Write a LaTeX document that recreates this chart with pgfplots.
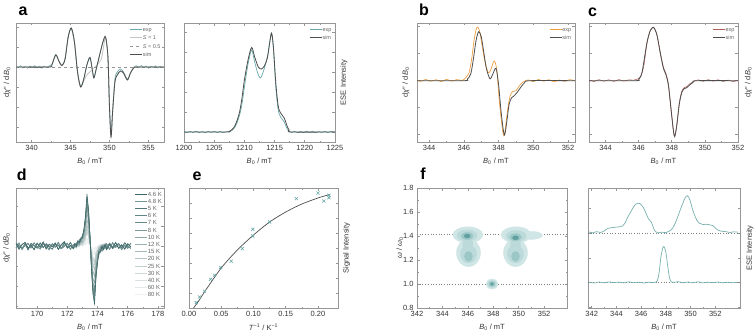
\documentclass[border=0pt]{standalone}
\usepackage{pgfplots}
\pgfplotsset{compat=1.18}
\usepackage{pgfplotstable}
\usepackage{fontspec}
\setmainfont{Liberation Sans}

\definecolor{axgray}{RGB}{150,150,150}
\definecolor{expteal}{RGB}{104,168,168}
\definecolor{simgray}{RGB}{78,78,78}
\definecolor{sone}{RGB}{195,195,195}
\definecolor{shalf}{RGB}{150,150,150}
\definecolor{exporange}{RGB}{238,160,64}
\definecolor{expred}{RGB}{176,96,88}
\definecolor{dbase}{RGB}{62,104,104}
\definecolor{fteal}{RGB}{120,176,176}
\definecolor{c1}{RGB}{208,229,229}
\definecolor{c2}{RGB}{188,218,218}
\definecolor{c3}{RGB}{155,199,199}
\definecolor{c4}{RGB}{98,160,160}

\pgfplotsset{
  panel/.style={
    scale only axis, anchor=south west,
    axis line style={draw=axgray, line width=0.8pt},
    tick style={draw=axgray, line width=0.6pt},
    major tick length=2.5pt, minor tick length=1.5pt,
    tick align=inside,
    ticklabel style={font=\fontsize{7.5}{8}\selectfont, text=black!80},
    label style={font=\fontsize{7.5}{8}\selectfont, text=black!80},
    /pgf/number format/assume math mode=true,
    /pgf/number format/1000 sep={},
    legend style={draw=none, fill=none, font=\fontsize{5.5}{6}\selectfont,
      text=black!60, inner sep=0pt, row sep=2.4pt,
      nodes={inner sep=0.4pt, text height=4.5pt, text depth=0.5pt}},
    legend cell align=left,
    legend image code/.code={\draw[##1] (0pt,0pt) -- (12pt,0pt);},
  },
  ylab/.style={ylabel style={at={(axis description cs:#1,0.5)}, anchor=center}},
}

% panel d: line shape s (peak = 1) and three baseline noise columns (px)
\pgfplotstableread{
x s n1 n2 n3
168.6 0 2.1 -1.6 3.3
168.8 0 -3.0 2.8 -0.5
169.0 0 1.4 -3.4 -2.4
169.2 0 3.5 0.9 1.9
169.4 0 -2.2 2.5 -3.8
169.6 0 0.8 -1.9 2.6
169.8 0 -3.6 3.1 0.3
170.0 0 2.7 -0.7 -2.1
170.2 0 -1.1 -2.9 3.0
170.4 0 3.9 1.8 -1.5
170.6 0 -2.8 0.4 2.2
170.8 0 1.7 -3.7 -0.8
171.0 0 -0.6 2.3 -3.1
171.2 0 2.9 -1.2 1.6
171.4 0 -3.3 3.6 0.7
171.6 0 1.2 -2.5 -2.7
171.8 0 4.2 -0.3 2.9
172.0 0 -2.0 2.7 -1.3
172.2 0 0.5 -3.2 3.5
172.4 0 -2.6 1.5 -2.2
172.5 0.02 1.5 -2.0 0.9
172.6 0.04 -1.8 1.2 -2.3
172.7 0.06 2.2 -1.6 1.7
172.8 0.09 -0.9 2.3 -1.2
172.9 0.13 1.1 -0.8 2.0
173.0 0.20 -1.4 1.4 -0.9
173.1 0.32 0.8 -1.0 0.6
173.2 0.58 -0.6 0.7 -0.7
173.3 1.00 0.4 -0.5 0.5
173.4 0.72 -0.5 0.6 -0.3
173.5 0.18 0.3 -0.4 0.4
173.6 -0.45 -0.4 0.5 -0.6
173.7 -0.95 0.6 -0.7 0.8
173.8 -1.10 -0.8 0.9 -0.5
173.9 -0.60 1.0 -1.2 1.3
174.0 -0.30 -1.3 1.5 -0.9
174.1 -0.15 1.6 -1.1 2.1
174.2 -0.08 -2.1 2.0 -1.5
174.3 -0.05 2.4 -2.6 1.4
174.4 -0.03 -1.7 1.9 -2.4
174.5 -0.02 2.6 -1.4 1.8
174.6 -0.01 -3.1 2.5 -1.2
174.8 -0.01 2.0 -2.8 3.1
175.0 0 -1.5 3.3 -2.6
175.2 0 3.4 -1.4 0.6
175.4 0 -2.4 1.9 2.4
175.6 0 1.1 -3.5 -1.8
175.8 0 -3.0 0.8 3.2
176.0 0 2.2 -2.1 -0.4
176.2 0 -0.7 2.9 -2.3
}\dshape

\begin{document}
\begin{tikzpicture}
\path[use as bounding box] (0pt,0pt) rectangle (756pt,333pt);

% ---------------- a (left) ----------------
\begin{axis}[panel, at={(16pt,191pt)}, width=148pt, height=119pt,
  xmin=338, xmax=357, ymin=-75, ymax=44,
  xtick={340,345,350,355}, minor x tick num=1,
  ytick={-60,-40,...,40}, yticklabels={},
  xlabel={\textit{B}\textsubscript{0} / mT},
  ylabel={d\textit{χ}″ / d\textit{B}\textsubscript{0}}, ylab=-0.06,
  legend style={at={(0.98,0.97)}, anchor=north east}]
\addplot[expteal, line width=0.7pt, smooth] coordinates {
(338.0,0.8) (338.3,-0.6) (338.6,1.2) (338.9,-1.0) (339.2,0.5) (339.5,-1.2)
(339.8,1.0) (340.1,-0.4) (340.4,1.3) (340.7,-0.9) (341.0,0.6) (341.3,-1.1)
(341.6,1.0) (341.9,-0.5) (342.2,0.7) (342.6,2.5) (343.1,12.5) (343.5,6)
(343.9,1.5) (344.3,8.5) (344.7,30) (345.1,38) (345.5,25) (345.9,-5)
(346.3,-19) (346.7,-12) (347.1,2) (347.5,9) (347.8,-3) (348.0,-10.5)
(348.3,-2) (348.8,14) (349.2,26) (349.5,29) (349.8,10) (350.0,-38)
(350.2,-68) (350.4,-44) (350.7,-12) (351.0,-5) (351.4,-2) (351.8,-5)
(352.3,-12) (352.7,-6) (353.1,-0.5) (353.5,1.2) (353.8,-0.8) (354.1,1.4)
(354.4,-0.6) (354.7,1.0) (355.0,-1.2) (355.3,0.8) (355.6,-0.4) (355.9,1.1)
(356.2,-0.9) (356.5,0.6) (356.8,-0.7) (357.0,0.3)};
\addlegendentry{exp}
\addplot[sone, line width=0.8pt, smooth] coordinates {
(338,0) (342.2,0) (342.6,2) (343.1,12) (343.5,6) (343.9,1.5) (344.3,8)
(344.7,30) (345.1,39) (345.5,25) (345.9,-5) (346.3,-20) (347.0,-9)
(348.0,-1) (348.9,7) (349.2,18) (349.5,30) (349.8,10) (350.0,-40)
(350.2,-70) (350.4,-45) (350.7,-15) (351.0,-8) (351.4,-4) (351.8,-6)
(352.3,-13) (352.7,-6) (353.1,-1) (353.6,0) (357,0)};
\addlegendentry{\textit{S} = 1}
\addplot[shalf, line width=0.5pt, dashed] coordinates {(338,0) (357,0)};
\addlegendentry{\textit{S} = 0.5}
\addplot[simgray, line width=0.8pt, smooth] coordinates {
(338,0) (342.2,0) (342.6,2) (343.1,12) (343.5,6) (343.9,1.5) (344.3,8)
(344.7,30) (345.1,39) (345.5,25) (345.9,-5) (346.3,-20) (346.7,-12)
(347.1,2) (347.5,9.6) (347.8,-3) (348.0,-11) (348.3,-2) (348.8,14)
(349.2,26) (349.5,30) (349.8,10) (350.0,-40) (350.2,-70) (350.4,-45)
(350.7,-15) (351.0,-8) (351.4,-4) (351.8,-6) (352.3,-13) (352.7,-6)
(353.1,-1) (353.6,0) (357,0)};
\addlegendentry{sim}
\end{axis}

% ---------------- a (right) ----------------
\begin{axis}[panel, at={(184pt,191pt)}, width=151pt, height=119pt,
  xmin=1200, xmax=1225, ymin=-10, ymax=109,
  xtick={1200,1205,...,1225}, minor x tick num=1,
  ytick={0,20,...,100}, yticklabels={},
  xlabel={\textit{B}\textsubscript{0} / mT},
  ylabel={ESE Intensity}, ylab=1.06,
  legend style={at={(0.98,0.97)}, anchor=north east}]
\addplot[expteal, line width=0.7pt, smooth] coordinates {
(1200,0.5) (1200.5,-0.8) (1201,0.6) (1201.5,-0.5) (1202,0.9) (1202.5,-0.7)
(1203,0.4) (1203.5,-0.9) (1204,0.7) (1204.5,-0.4) (1205,0.8) (1205.5,-0.6)
(1206,0.5) (1206.5,-0.7) (1207,0.3) (1207.6,0.5) (1208.2,3) (1208.7,8)
(1209.2,17) (1209.6,28) (1210.0,45) (1210.6,68) (1211.2,82) (1211.7,70)
(1212.2,59) (1212.6,54) (1213.0,58) (1213.5,68) (1213.9,78) (1214.2,90)
(1214.5,98) (1214.8,84) (1215.2,45) (1215.6,22) (1216.0,15) (1216.6,10)
(1217.0,4) (1217.4,1) (1217.8,-0.5) (1218.3,0.6) (1218.8,-0.7) (1219.3,0.5)
(1219.8,-0.6) (1220.3,0.8) (1220.8,-0.4) (1221.3,0.7) (1221.8,-0.8)
(1222.3,0.4) (1222.8,-0.5) (1223.3,0.7) (1223.8,-0.6) (1224.3,0.5) (1225,0)};
\addlegendentry{exp}
\addplot[simgray, line width=0.8pt, smooth] coordinates {
(1200,0) (1207.0,0) (1207.6,1) (1208.2,4) (1208.7,10) (1209.2,20)
(1209.6,34) (1210.0,52) (1210.6,72) (1211.2,84.6) (1211.7,75) (1212.3,65)
(1212.8,63) (1213.3,66) (1213.8,74) (1214.2,90) (1214.5,99) (1214.8,85)
(1215.2,49) (1215.6,26) (1216.0,19) (1216.6,14) (1217.0,7) (1217.4,2)
(1217.8,0) (1225,0)};
\addlegendentry{sim}
\end{axis}

% ---------------- b ----------------
\begin{axis}[panel, at={(417pt,191pt)}, width=158pt, height=119pt,
  xmin=343.3, xmax=352.4, ymin=-61.3, ymax=57.7,
  xtick={344,346,...,352}, minor x tick num=1,
  ytick={-54,-27,0,27,54}, yticklabels={},
  xlabel={\textit{B}\textsubscript{0} / mT},
  ylabel={d\textit{χ}″ / d\textit{B}\textsubscript{0}}, ylab=-0.07,
  legend style={at={(0.98,0.97)}, anchor=north east}]
\addplot[exporange, line width=0.7pt, smooth] coordinates {
(343.3,0.8) (343.5,-0.7) (343.8,1.2) (344.1,-0.5) (344.4,1.0) (344.7,-0.9)
(345.0,1.3) (345.3,-0.4) (345.6,1.1) (345.9,0.2) (346.1,3) (346.3,8)
(346.45,22) (346.6,42) (346.75,53.4) (346.9,50) (347.05,35) (347.2,20)
(347.4,8) (347.55,11) (347.75,19.7) (347.9,10) (348.05,-22) (348.25,-52)
(348.35,-53) (348.5,-32) (348.65,-16) (348.8,-11) (349.0,-10) (349.2,-5)
(349.4,-1.5) (349.7,0.8) (350.0,-0.9) (350.3,1.2) (350.6,-0.5) (350.9,1.0)
(351.2,-1.1) (351.5,0.7) (351.8,-0.6) (352.1,1.0) (352.4,0)};
\addlegendentry{exp}
\addplot[simgray, line width=0.8pt, smooth] coordinates {
(343.3,0) (346.0,0) (346.2,1.5) (346.4,7) (346.55,22) (346.7,40)
(346.85,49) (347.0,44) (347.15,28) (347.3,12) (347.5,2) (347.65,6)
(347.85,12.3) (348.0,-4) (348.15,-32) (348.33,-54.3) (348.48,-40)
(348.6,-24) (348.75,-17) (348.9,-15) (349.1,-11) (349.3,-6) (349.5,-2)
(349.8,0) (352.4,0)};
\addlegendentry{sim}
\end{axis}

% ---------------- c ----------------
\begin{axis}[panel, at={(589pt,191pt)}, width=149pt, height=119pt,
  xmin=343, xmax=352, ymin=-61.3, ymax=57.7,
  xtick={344,346,...,352}, minor x tick num=1,
  ytick={-54,-27,0,27,54}, yticklabels={},
  xlabel={\textit{B}\textsubscript{0} / mT},
  ylabel={d\textit{χ}″ / d\textit{B}\textsubscript{0}}, ylab=1.07,
  legend style={at={(0.98,0.97)}, anchor=north east}]
\addplot[expred, line width=0.6pt, smooth] coordinates {
(343.0,0.6) (343.3,-0.8) (343.6,1.0) (343.9,-0.5) (344.2,0.9) (344.5,-0.7)
(344.8,1.1) (345.1,-0.4) (345.4,0.8) (345.7,0.5) (345.9,1.5) (346.1,4)
(346.3,14) (346.5,37) (346.7,50) (346.9,53) (347.1,46) (347.3,29)
(347.5,13) (347.65,7) (347.8,-4) (347.95,-27) (348.1,-50) (348.18,-55)
(348.3,-45) (348.45,-23) (348.6,-11) (348.75,-7) (348.9,-6) (349.1,-3)
(349.3,-1) (349.6,0.8) (349.9,-0.6) (350.2,1.0) (350.5,-0.4) (350.8,0.9)
(351.1,-0.7) (351.4,0.6) (351.7,-0.8) (352.0,0.4)};
\addlegendentry{exp}
\addplot[simgray, line width=0.8pt, smooth] coordinates {
(343,0) (345.8,0) (346.0,1.5) (346.2,8) (346.5,38) (346.7,50)
(346.9,53.4) (347.1,46) (347.3,28) (347.5,12) (347.65,6) (347.8,-5)
(347.95,-28) (348.1,-50) (348.18,-56) (348.3,-45) (348.45,-24) (348.6,-12)
(348.75,-8) (348.9,-7) (349.1,-4) (349.3,-1.5) (349.5,0) (352,0)};
\addlegendentry{sim}
\end{axis}

% ---------------- d ----------------
\begin{axis}[panel, at={(16pt,25pt)}, width=148pt, height=120pt,
  xmin=168.6, xmax=178.4, ymin=-62, ymax=58,
  xtick={170,172,...,178}, minor x tick num=1,
  ytick={-60,-40,...,40}, yticklabels={},
  xlabel={\textit{B}\textsubscript{0} / mT},
  ylabel={d\textit{χ}″ / d\textit{B}\textsubscript{0}}, ylab=-0.063,
  reverse legend,
  legend style={at={(0.99,0.975)}, anchor=north east,
    font=\fontsize{6}{6}\selectfont, row sep=1.6pt,
    nodes={inner sep=0.4pt, text height=4.6pt, text depth=0.2pt}}]
\addplot[dbase!9!white, line width=0.6pt] table[y expr=2.5*\thisrow{s}+\thisrow{n3}] {\dshape};
\addlegendentry{80 K}
\addplot[dbase!14!white, line width=0.6pt] table[y expr=5*\thisrow{s}+\thisrow{n1}] {\dshape};
\addlegendentry{60 K}
\addplot[dbase!20!white, line width=0.6pt] table[y expr=8*\thisrow{s}+\thisrow{n2}] {\dshape};
\addlegendentry{40 K}
\addplot[dbase!26!white, line width=0.6pt] table[y expr=13*\thisrow{s}+\thisrow{n3}] {\dshape};
\addlegendentry{30 K}
\addplot[dbase!32!white, line width=0.6pt] table[y expr=15*\thisrow{s}+\thisrow{n1}] {\dshape};
\addlegendentry{25 K}
\addplot[dbase!38!white, line width=0.6pt] table[y expr=18*\thisrow{s}+\thisrow{n2}] {\dshape};
\addlegendentry{20 K}
\addplot[dbase!45!white, line width=0.6pt] table[y expr=21*\thisrow{s}+\thisrow{n3}] {\dshape};
\addlegendentry{15 K}
\addplot[dbase!52!white, line width=0.6pt] table[y expr=27*\thisrow{s}+\thisrow{n1}] {\dshape};
\addlegendentry{12 K}
\addplot[dbase!60!white, line width=0.6pt] table[y expr=34*\thisrow{s}+\thisrow{n2}] {\dshape};
\addlegendentry{10 K}
\addplot[dbase!68!white, line width=0.6pt] table[y expr=39*\thisrow{s}+\thisrow{n3}] {\dshape};
\addlegendentry{8 K}
\addplot[dbase!78!white, line width=0.6pt] table[y expr=43*\thisrow{s}+\thisrow{n1}] {\dshape};
\addlegendentry{7 K}
\addplot[dbase!80!white, line width=0.6pt] table[y expr=46*\thisrow{s}+\thisrow{n2}] {\dshape};
\addlegendentry{6 K}
\addplot[dbase!90!white, line width=0.6pt] table[y expr=48*\thisrow{s}+\thisrow{n3}] {\dshape};
\addlegendentry{5 K}
\addplot[dbase!70!white, line width=0.6pt] table[y expr=49*\thisrow{s}+\thisrow{n2}] {\dshape};
\addlegendentry{4.8 K}
\addplot[dbase, line width=0.6pt] table[y expr=51.7*\thisrow{s}+\thisrow{n1}] {\dshape};
\addlegendentry{4.6 K}
\end{axis}

% ---------------- e ----------------
\begin{axis}[panel, at={(189pt,25pt)}, width=149pt, height=120pt,
  xmin=0, xmax=0.231, ymin=0, ymax=120,
  xtick={0,0.05,...,0.2}, minor x tick num=1,
  xticklabel style={/pgf/number format/.cd, fixed, fixed zerofill, precision=2},
  ytick={0,15,...,105}, yticklabels={},
  xlabel={\textit{T}\textsuperscript{−1} / K\textsuperscript{−1}},
  ylabel={Signal Intensity}, ylab=1.058]
\addplot[simgray, line width=0.7pt, smooth] coordinates {
(0.007,0) (0.015,7) (0.025,17) (0.05,40) (0.075,58) (0.10,73) (0.125,86)
(0.15,96) (0.175,104) (0.20,110) (0.218,113.5)};
\addplot[only marks, mark=x, mark size=2.2pt, expteal, line width=0.6pt] coordinates {
(0.0112,5.4) (0.0163,11) (0.024,16.7) (0.0334,28.7) (0.0396,32.7) (0.0489,40.4)
(0.0655,46.7) (0.0826,59.4) (0.099,72) (0.099,78.7) (0.125,86) (0.1665,109.4)
(0.200,115) (0.2089,107) (0.217,112.7) (0.217,110.3)};
\end{axis}

% ---------------- f (left) ----------------
\begin{axis}[panel, at={(417pt,25pt)}, width=150pt, height=120pt,
  xmin=342, xmax=353.8, ymin=0.8, ymax=1.8,
  xtick={342,344,...,352}, minor x tick num=1,
  ytick={0.8,1.0,...,1.8}, minor y tick num=1,
  yticklabel style={/pgf/number format/.cd, fixed, fixed zerofill, precision=1},
  xlabel={\textit{B}\textsubscript{0} / mT},
  ylabel={\textit{ω} / \textit{ω}\textsubscript{0}}, ylab=-0.115]
% lightest level
\addplot[only marks, mark=*, mark size=1pt, c1, mark options={draw=none, xscale=15, yscale=8}] coordinates {(346.0,1.41) (349.8,1.41)};
\addplot[only marks, mark=*, mark size=1pt, c1, mark options={draw=none, xscale=12, yscale=14}] coordinates {(346.05,1.26) (349.75,1.26)};
\addplot[only marks, mark=*, mark size=1pt, c1, mark options={draw=none, xscale=11, yscale=4}] coordinates {(351.0,1.405)};
\addplot[only marks, mark=*, mark size=1pt, c1, mark options={draw=none, xscale=6, yscale=5}] coordinates {(347.9,1.0)};
% second level
\addplot[only marks, mark=*, mark size=1pt, c2, mark options={draw=none, xscale=10, yscale=5.5}] coordinates {(345.95,1.405) (349.8,1.40)};
\addplot[only marks, mark=*, mark size=1pt, c2, mark options={draw=none, xscale=8, yscale=9}] coordinates {(346.05,1.25) (349.75,1.25)};
\addplot[only marks, mark=*, mark size=1pt, c2, mark options={draw=none, xscale=5, yscale=8}] coordinates {(346.0,1.33) (349.75,1.33)};
\addplot[only marks, mark=*, mark size=1pt, c2, mark options={draw=none, xscale=4.5, yscale=3.5}] coordinates {(347.9,1.0)};
% third level
\addplot[only marks, mark=*, mark size=1pt, c3, mark options={draw=none, xscale=6, yscale=3.5}] coordinates {(345.95,1.40) (349.75,1.39)};
\addplot[only marks, mark=*, mark size=1pt, c3, mark options={draw=none, xscale=4, yscale=5}] coordinates {(346.05,1.23) (349.75,1.23)};
\addplot[only marks, mark=*, mark size=1pt, c3, mark options={draw=none, xscale=3, yscale=2.5}] coordinates {(347.9,1.0)};
% darkest level
\addplot[only marks, mark=*, mark size=1pt, c4, mark options={draw=none, xscale=3, yscale=2}] coordinates {(345.95,1.40) (349.75,1.385)};
\addplot[only marks, mark=*, mark size=1pt, c4, mark options={draw=none, xscale=1.6, yscale=1.3}] coordinates {(347.9,1.0)};
\addplot[gray, dotted, line width=0.7pt] coordinates {(342,1.414) (353.8,1.414)};
\addplot[gray, dotted, line width=0.7pt] coordinates {(342,1.0) (353.8,1.0)};
\end{axis}

% ---------------- f (right) ----------------
\begin{axis}[panel, at={(588pt,25pt)}, width=152pt, height=120pt,
  xmin=341.7, xmax=354.0, ymin=0, ymax=120,
  xtick={342,344,...,352}, minor x tick num=1,
  ytick={1,25.3,50,74.7,99.4}, yticklabels={},
  xlabel={\textit{B}\textsubscript{0} / mT},
  ylabel={ESE Intensity}, ylab=1.066]
\addplot[gray, dotted, line width=0.7pt] coordinates {(341.7,74.7) (354,74.7)};
\addplot[gray, dotted, line width=0.7pt] coordinates {(341.7,25.3) (354,25.3)};
\addplot[fteal, line width=0.7pt, smooth] coordinates {
(341.8,76.0) (342.1,75.2) (342.4,76.4) (342.7,75.5) (343.0,77.0) (343.3,79.5)
(343.7,80.5) (344.1,81.0) (344.5,82.0) (344.7,85) (344.92,91) (345.2,97)
(345.46,102.5) (345.7,104.7) (345.9,104.5) (346.15,101) (346.4,94.7)
(346.6,89) (346.81,86.3) (347.0,80) (347.16,76.3) (347.4,75.2) (347.62,75.8)
(348.02,75.5) (348.3,77) (348.56,80) (348.8,86) (349.1,96) (349.35,104)
(349.55,110) (349.75,112.3) (349.95,108) (350.15,99) (350.32,93) (350.5,88)
(350.72,84.7) (351.0,83.5) (351.26,83.7) (351.5,83.3) (351.8,82.5) (352.0,80)
(352.2,78) (352.5,76.8) (352.88,76.3) (353.2,75.5) (353.5,76.2) (353.82,75.8)};
\addplot[fteal, line width=0.7pt, smooth] coordinates {
(341.8,25.8) (342.2,25.0) (342.6,26.0) (343.0,25.2) (343.4,26.1) (343.8,25.4)
(344.2,25.9) (344.6,25.1) (345.0,26.2) (345.4,25.3) (345.8,25.9) (346.2,25.0)
(346.6,25.8) (347.0,25.5) (347.3,27) (347.45,35) (347.6,51) (347.75,60)
(347.85,61.3) (348.0,56) (348.15,42) (348.3,30) (348.45,26) (348.7,25.6)
(349.0,26.4) (349.4,25.2) (349.8,26.0) (350.2,25.3) (350.6,26.2) (351.0,25.1)
(351.4,25.9) (351.8,25.4) (352.2,26.0) (352.6,25.2) (353.0,25.8) (353.4,25.3)
(353.82,25.7)};
\end{axis}

% panel letters
\begin{scope}[every node/.style={font=\fontsize{16}{16}\selectfont\bfseries, inner sep=0pt}]
\node at (23pt,322pt) {a};
\node at (424pt,323.5pt) {b};
\node at (592.5pt,320.5pt) {c};
\node at (21.7pt,158pt) {d};
\node at (197pt,157pt) {e};
\node at (423pt,159pt) {f};
\end{scope}
\end{tikzpicture}
\end{document}
